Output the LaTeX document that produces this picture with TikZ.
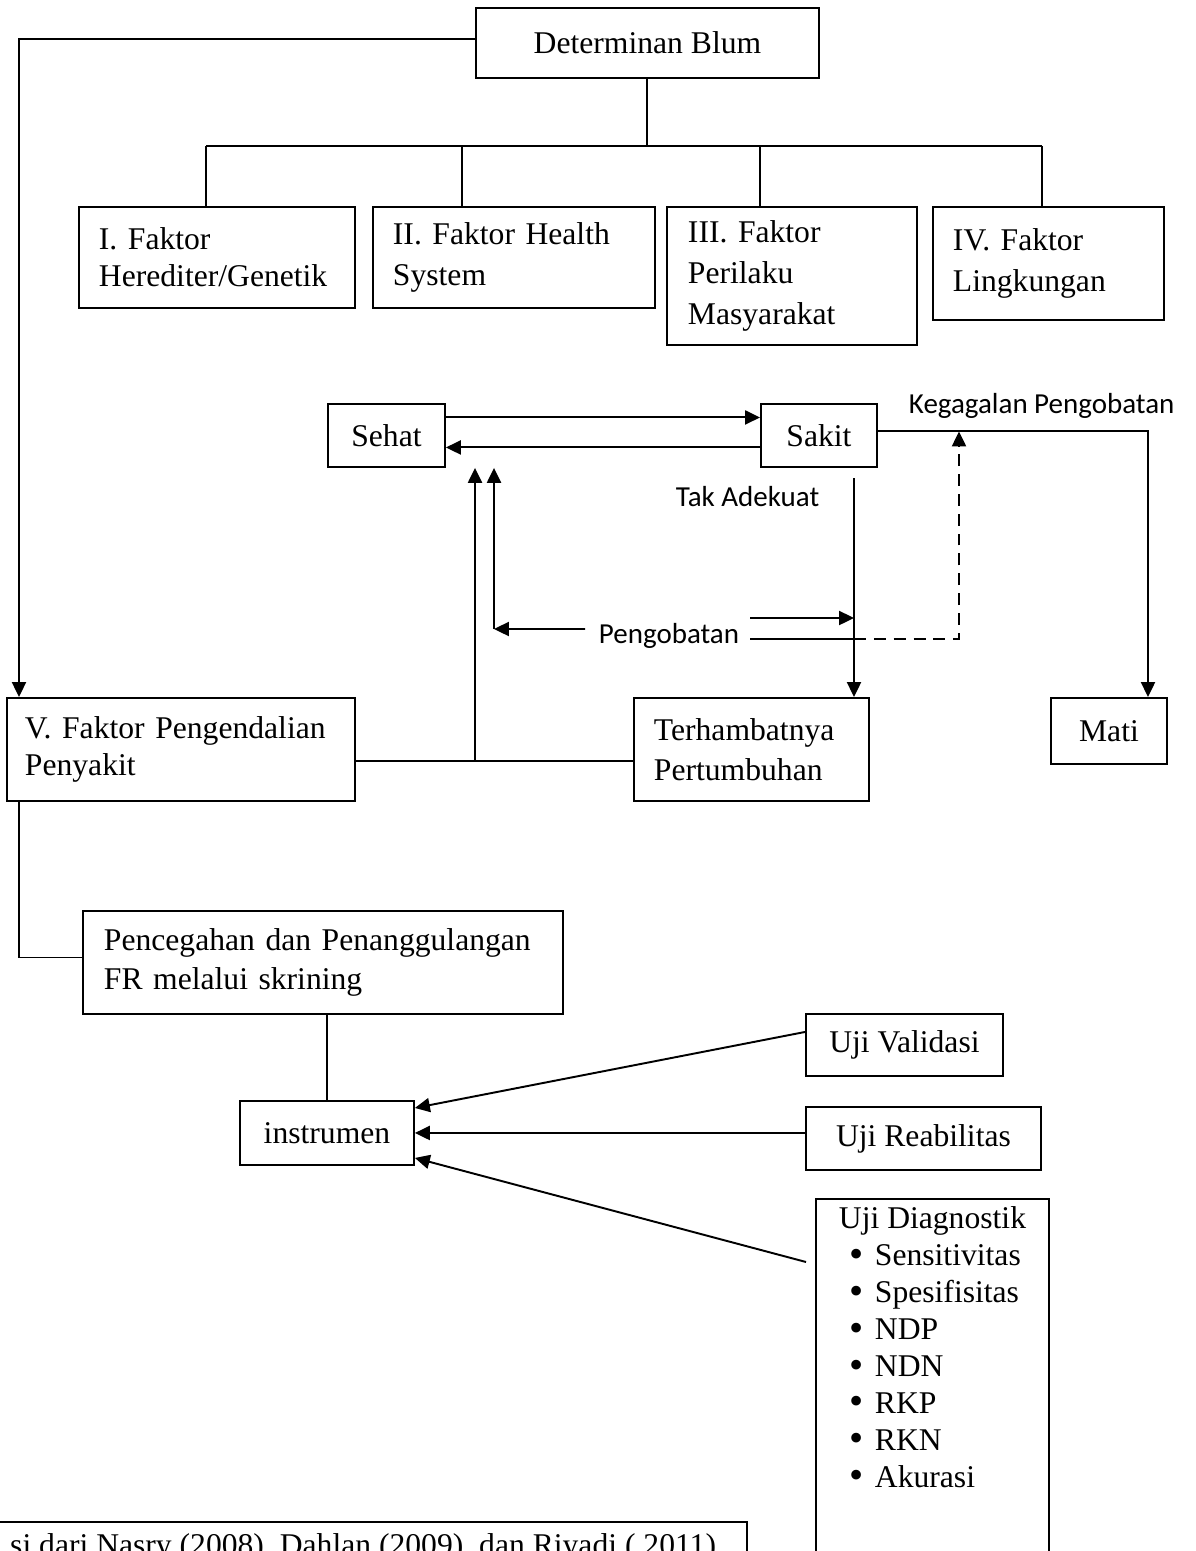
\documentclass[tikz,border=0pt]{standalone}
\usepackage{fontspec}
\setmainfont{Liberation Serif}
\newfontfamily\calibri{Carlito}
\usetikzlibrary{arrows.meta,positioning}

\newcommand{\fbesar}{\fontsize{18}{23.5}\selectfont}
\newcommand{\fsatu}{\fontsize{18}{21}\selectfont}
\newcommand{\butir}[1]{\hspace*{0.68cm}\makebox[0.5cm][l]{\raisebox{-0.03cm}{\fontsize{23}{21}\selectfont\textbullet}}#1}

\tikzset{
  kotak/.style={draw, line width=1.1pt, anchor=north west, inner sep=0pt},
  ket/.style={font=\calibri\fontsize{16.5}{19}\selectfont, inner sep=0pt},
}

\begin{document}
\begin{tikzpicture}[
  x=0.02cm, y=-0.02cm,
  font=\fbesar,
  >={Triangle[length=8.5pt,width=8pt]},
  line width=1.1pt,
]
\useasboundingbox (0,0) rectangle (1196,1551);
\clip (0,0) rectangle (1196,1551);

% determinan dan faktor
\node[kotak, minimum width=6.86cm, minimum height=1.4cm] (blum) at (475,7) {Determinan Blum};
\node[kotak, minimum width=5.52cm, minimum height=2.02cm, text width=4.72cm, align=left, font=\fsatu] (f1) at (78,206) {I. Faktor\\Herediter/Genetik};
\node[kotak, minimum width=5.64cm, minimum height=2.02cm, text width=4.84cm, align=left] (f2) at (372,206) {II. Faktor Health\\System};
\node[kotak, minimum width=5.0cm, minimum height=2.76cm, text width=4.16cm, align=left] (f3) at (666,206) {III. Faktor\\Perilaku\\Masyarakat};
\node[kotak, minimum width=4.62cm, minimum height=2.26cm, text width=3.82cm, align=left] (f4) at (932,206) {IV. Faktor\\Lingkungan};

\draw (blum.south) -- (blum.south |- 0,146);
\draw (206,146) -- (1042,146);
\foreach \n/\x in {f1/206,f2/462,f3/760,f4/1042} {
  \draw (\x,146) -- (\n.north -| \x,0);
}

% sehat - sakit
\node[kotak, minimum width=2.34cm, minimum height=1.26cm] (sehat) at (327,403) {Sehat};
\node[kotak, minimum width=2.32cm, minimum height=1.26cm] (sakit) at (760,403) {Sakit};
\node[kotak, minimum width=6.96cm, minimum height=2.06cm, text width=6.24cm, align=left, font=\fsatu] (f5) at (6,697) {V. Faktor Pengendalian\\Penyakit};
\node[kotak, minimum width=4.7cm, minimum height=2.06cm, text width=3.9cm, align=left, font=\fontsize{18}{22.5}\selectfont] (hambat) at (633,697) {Terhambatnya\\Pertumbuhan};
\node[kotak, minimum width=2.32cm, minimum height=1.32cm] (mati) at (1050,697) {Mati};

\draw[->] ([yshift=0.08cm]blum.west) -| ([xshift=0.26cm]f5.north west);
\draw[->] ([yshift=0.36cm]sehat.east) -- ([yshift=0.36cm]sakit.west);
\draw[->] ([yshift=-0.24cm]sakit.west) -- ([yshift=-0.24cm]sehat.east);

\node[ket, anchor=base west] (gagal) at (908,413) {Kegagalan Pengobatan};
\draw[->] ([yshift=0.08cm]sakit.east) -| (mati.north -| 1148,0);

\node[ket, anchor=base west] (tak) at (675,506) {Tak Adekuat};
\coordinate (turun) at (854,478);
\draw[->] (turun) -- (hambat.north -| turun);

\node[ket, anchor=base west] (obat) at (598,643) {Pengobatan};
\draw[->] ([xshift=0.2cm,yshift=0.5cm]obat.base east) -- ([yshift=0.5cm]obat.base east -| turun);
\draw ([xshift=0.2cm,yshift=0.08cm]obat.base east) -- ([yshift=0.08cm]obat.base east -| turun);
\draw[->, dash pattern=on 6.8pt off 4.5pt] ([yshift=0.08cm]obat.base east -| turun) -| ([yshift=0.08cm]sakit.east -| 959,0);

\coordinate (kiri) at (494,629);
\draw[->] ([xshift=-0.26cm,yshift=0.28cm]obat.base west) -- (kiri);
\draw[->] (kiri) -- (kiri |- sehat.south);
\coordinate (cabang) at ([yshift=-0.24cm]f5.east -| 475,0);
\draw ([yshift=-0.24cm]f5.east) -- ([yshift=-0.24cm]hambat.west);
\draw[->] (cabang) -- (cabang |- sehat.south);

% pencegahan dan instrumen
\node[kotak, minimum width=9.6cm, minimum height=2.06cm, text width=8.76cm, align=left, font=\fontsize{18}{22.5}\selectfont] (cegah) at (82,910) {\makebox[8.76cm][s]{Pencegahan dan Penanggulangan}\\FR melalui skrining};
\node[kotak, minimum width=3.48cm, minimum height=1.28cm] (instr) at (239,1100) {instrumen};
\draw ([xshift=0.26cm]f5.south west) |- ([yshift=0.1cm]cegah.west);
\draw (cegah.south -| instr.north) -- (instr.north);

% uji
\node[kotak, minimum width=3.94cm, minimum height=1.24cm] (valid) at (805,1013) {Uji Validasi};
\node[kotak, minimum width=4.7cm, minimum height=1.26cm] (reab) at (805,1106) {Uji Reabilitas};
\node[kotak, inner ysep=0.16cm] (diag) at (815,1198) {%
  \begin{minipage}[t][8.4cm][t]{4.66cm}\fsatu
  \hspace*{0.46cm}Uji Diagnostik\\
  \butir{Sensitivitas}\\
  \butir{Spesifisitas}\\
  \butir{NDP}\\
  \butir{NDN}\\
  \butir{RKP}\\
  \butir{RKN}\\
  \butir{Akurasi}
  \end{minipage}};
\draw[->] ([yshift=0.26cm]valid.west) -- ([yshift=0.5cm]instr.east);
\draw[->] (reab.west |- instr.east) -- (instr.east);
\draw[->] ([xshift=-0.18cm,yshift=-1.28cm]diag.north west) -- ([yshift=-0.5cm]instr.east);

% sumber
\node[kotak, anchor=north east, inner xsep=0.62cm, inner ysep=0.24cm] (sumber) at (748,1521) {si dari Nasry (2008), Dahlan (2009), dan Riyadi ( 2011)};
\end{tikzpicture}
\end{document}
